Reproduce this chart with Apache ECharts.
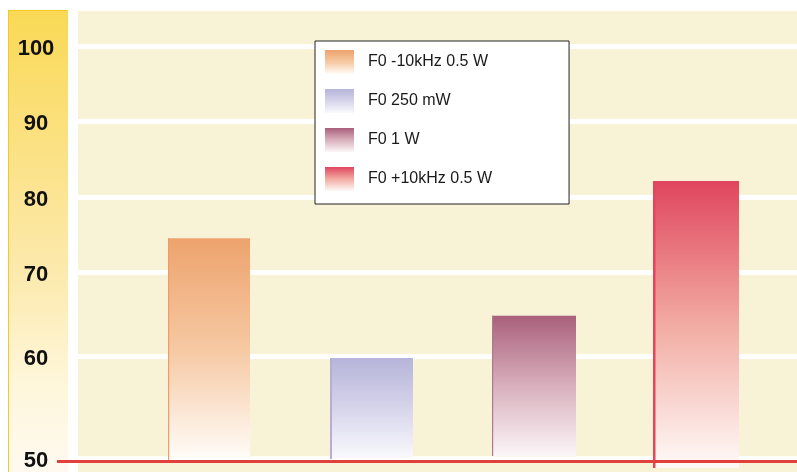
<!DOCTYPE html>
<html>
<head>
<meta charset="utf-8">
<script src="https://cdn.jsdelivr.net/npm/echarts@6/dist/echarts.min.js"></script>
<style>
  html, body { margin: 0; padding: 0; background: #ffffff; }
  #chart { width: 797px; height: 472px; }
</style>
</head>
<body>
<div id="chart"></div>
<script>
// Output level per signal condition
const categories = ['F0 -10kHz 0.5 W', 'F0 250 mW', 'F0 1 W', 'F0 +10kHz 0.5 W'];
const levels = [74.5, 59.8, 64.8, 82.1];
const tickLabels = [50, 60, 70, 80, 90, 100];

// Segmented vertical scale: distance of each tick above the baseline, in px
const scaleStops = [0, 102, 186, 261, 337, 412];
const axisSpan = 447;

function toAxis(v) {
  const n = tickLabels.length;
  let i = 1;
  while (i < n - 1 && v > tickLabels[i]) i++;
  const t = (v - tickLabels[i - 1]) / (tickLabels[i] - tickLabels[i - 1]);
  return scaleStops[i - 1] + t * (scaleStops[i] - scaleStops[i - 1]);
}

// Bar look: fading gradient plus a darker left edge
const barStyles = [
  { width: 82, stops: ['#EDA36D', '#F6C8A2', '#FFFCF8'], edge: '#F39B63', edgeWidth: 1.2, edgeExtend: 3, overhang: 0 },
  { width: 83, stops: ['#B6B4DA', '#D6D4EA', '#F9F9FE'], edge: '#B3AFD6', edgeWidth: 2, edgeExtend: 1, overhang: 0 },
  { width: 84, stops: ['#A9607B', '#D9B0BD', '#FBF7F8'], edge: '#B0788F', edgeWidth: 1.2, edgeExtend: -2, overhang: -1 },
  { width: 86, stops: ['#E0465F', '#F2ABA2', '#FFFAF8'], edge: '#E8455C', edgeWidth: 2.5, edgeExtend: 10, overhang: 10 }
];

function gradientOf(stops) {
  return new echarts.graphic.LinearGradient(0, 0, 0, 1,
    stops.map((c, k) => ({ offset: k / (stops.length - 1), color: c })));
}

function makeRender(st) {
  return function (params, api) {
    const cat = api.value(0);
    const top = api.coord([cat, api.value(1)]);
    const base = api.coord([cat, 0]);
    const x = Math.round(top[0] - st.width / 2);
    const h = base[1] - top[1];
    return {
      type: 'group',
      children: [
        { type: 'rect', shape: { x: x, y: top[1], width: st.width, height: h + st.overhang },
          style: { fill: gradientOf(st.stops) } },
        { type: 'rect', shape: { x: x, y: top[1], width: st.edgeWidth, height: h + st.edgeExtend },
          style: { fill: st.edge } }
      ]
    };
  };
}

const chart = echarts.init(document.getElementById('chart'), null, { renderer: 'canvas' });

const option = {
  animation: false,
  backgroundColor: '#ffffff',
  graphic: [
    { type: 'rect', z: -10, shape: { x: 8, y: 10, width: 60, height: 462 },
      style: { fill: new echarts.graphic.LinearGradient(0, 0, 0, 1, [
        { offset: 0, color: '#F9D955' },
        { offset: 0.3, color: '#FBE184' },
        { offset: 0.6, color: '#FCEBB2' },
        { offset: 0.82, color: '#FEF7DC' },
        { offset: 1, color: '#FFF9F0' }
      ]) } },
    { type: 'line', z: -9, shape: { x1: 8.5, y1: 10, x2: 8.5, y2: 472 },
      style: { stroke: '#F3CB1E', lineWidth: 1 } },
    { type: 'line', z: -9, shape: { x1: 8, y1: 10.5, x2: 68, y2: 10.5 },
      style: { stroke: '#F3CB1E', lineWidth: 1 } },
    { type: 'rect', z: -10, shape: { x: 78, y: 11, width: 719, height: 461 },
      style: { fill: '#F8F3D6' } },
    { type: 'line', z: 100, shape: { x1: 57, y1: 461.5, x2: 797, y2: 461.5 },
      style: { stroke: '#E2403A', lineWidth: 3 } }
  ],
  legend: {
    orient: 'vertical',
    left: 315,
    top: 41,
    padding: [9, 77, 13, 10],
    itemWidth: 29,
    itemHeight: 24,
    itemGap: 15,
    icon: 'rect',
    selectedMode: false,
    backgroundColor: '#ffffff',
    borderColor: '#222222',
    borderWidth: 1,
    textStyle: { fontFamily: 'Liberation Sans', fontSize: 16, color: '#1a1a1a', padding: [0, 0, 0, 9] },
    data: categories
  },
  grid: [
    { left: 78, right: 0, top: 11, height: axisSpan },
    { left: 128, right: 20, top: 11, height: axisSpan }
  ],
  xAxis: [
    { gridIndex: 0, type: 'category', data: categories, show: false },
    { gridIndex: 1, type: 'category', data: categories, show: false }
  ],
  yAxis: [
    {
      gridIndex: 0, type: 'value', min: 0, max: axisSpan,
      axisLine: { show: false },
      axisTick: { show: false, customValues: scaleStops },
      axisLabel: {
        customValues: scaleStops,
        formatter: function (v) {
          let best = 0;
          scaleStops.forEach((s, k) => { if (Math.abs(s - v) < Math.abs(scaleStops[best] - v)) best = k; });
          return String(tickLabels[best]);
        },
        align: 'center',
        verticalAlign: 'top',
        lineHeight: 6,
        margin: 42,
        fontFamily: 'Liberation Sans',
        fontWeight: 'bold',
        fontSize: 22,
        color: '#111111'
      },
      splitLine: { show: true, lineStyle: { color: '#ffffff', width: 5 } }
    },
    { gridIndex: 1, type: 'value', min: 0, max: axisSpan, show: false }
  ],
  series: categories.map((name, i) => ({
    type: 'custom',
    name: name,
    xAxisIndex: 1,
    yAxisIndex: 1,
    itemStyle: { color: gradientOf(barStyles[i].stops) },
    encode: { x: 0, y: 1 },
    renderItem: makeRender(barStyles[i]),
    data: [[i, toAxis(levels[i])]]
  }))
};

chart.setOption(option);
</script>
</body>
</html>
